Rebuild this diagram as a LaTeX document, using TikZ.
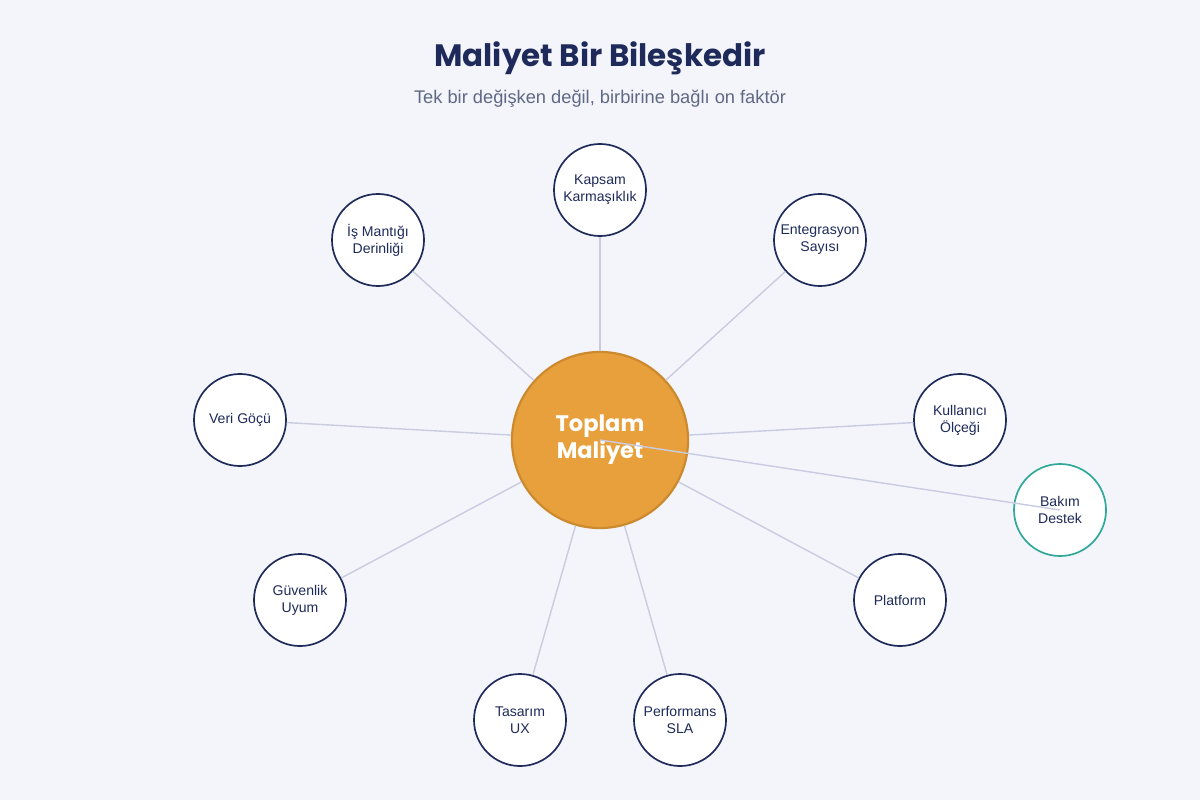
\documentclass[tikz,border=0pt]{standalone}
\usepackage{fontspec}
\setmainfont{Liberation Sans}
\newfontfamily\headfont{Poppins}
\definecolor{bgcol}{HTML}{F4F5FB}
\definecolor{navy}{HTML}{1E2A5A}
\definecolor{subgray}{HTML}{5F6884}
\definecolor{spoke}{HTML}{C9CCE0}
\definecolor{amber}{HTML}{E8A03C}
\definecolor{amberdark}{HTML}{CC8A2E}
\definecolor{teal}{HTML}{2FA89A}
\begin{document}
\begin{tikzpicture}[x=0.025cm,y=-0.025cm,font=\fontsize{10}{12}\selectfont]
        % Setup the styles
        \tikzset{factor/.style={circle, draw=navy, line width=1.2pt, fill=white,
                                minimum size=2.3cm, inner sep=0pt, align=center, text=navy},
                 hub/.style={circle, draw=amberdark, line width=1.6pt, fill=amber,
                             minimum size=4.4cm, align=center, text=white,
                             font=\headfont\bfseries\fontsize{16}{19}\selectfont},
                 link/.style={draw=spoke, line width=1pt}}
        \fill[bgcol] (0,0) rectangle (1200,800);

        % Title
        \node[text=navy, font=\headfont\bfseries\fontsize{22}{26}\selectfont] (title) at (600,58) {Maliyet Bir Bileşkedir};
        \node[text=subgray, font=\fontsize{13}{15}\selectfont] (subtitle) at (600,99) {Tek bir değişken değil, birbirine bağlı on faktör};

        % Draw the states
        \node[hub] at (600,440) (total) {Toplam\\Maliyet};
        \node[factor] at (600,190) (scope) {Kapsam\\Karmaşıklık};
        \node[factor] at (378,240) (logic) {İş Mantığı\\Derinliği};
        \node[factor] at (820,240) (integ) {Entegrasyon\\Sayısı};
        \node[factor] at (240,420) (migr) {Veri Göçü};
        \node[factor] at (960,420) (users) {Kullanıcı\\Ölçeği};
        \node[factor, draw=teal] at (1060,510) (maint) {Bakım\\Destek};
        \node[factor] at (300,600) (secur) {Güvenlik\\Uyum};
        \node[factor] at (900,600) (platf) {Platform};
        \node[factor] at (520,720) (design) {Tasarım\\UX};
        \node[factor] at (680,720) (perf) {Performans\\SLA};

        % Connect the hub with the factors
        \begin{scope}[on background layer/.style={}]
        \end{scope}
        \foreach \f in {scope,logic,integ,migr,users,secur,platf,design,perf}
            \path[link] (total) -- (\f);
        \draw[link] (total.center) -- (maint.center);
\end{tikzpicture}
\end{document}
